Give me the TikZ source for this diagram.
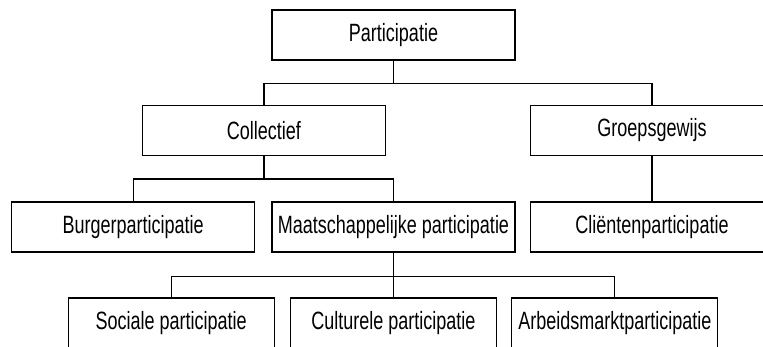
\documentclass[tikz,border=0pt]{standalone}
\usepackage{fontspec}
\setmainfont[FakeStretch=0.72]{Liberation Sans}
\usepackage{tikz}
\usetikzlibrary{positioning}
\tikzset{box node/.style={rectangle,draw,line width=1.3pt,minimum width=243pt,minimum height=50pt,inner sep=0pt,font=\fontsize{25}{30}\selectfont},
         small node/.style={box node,minimum width=206pt}}

\begin{document}
\begin{tikzpicture}[x=1pt,y=-1pt]
            \useasboundingbox (0,0) rectangle (763,347);
            \clip (0,0) rectangle (763,347);
            \node[box node] (P) at (393.5,35) {Participatie};
            \node[box node] (C) at (264,130.5) {Collectief};
            \node[box node] (G) at (652,130.5) {Groepsgewijs};
            \node[box node] (M) at (393.5,227) {Maatschappelijke participatie};
            \node[box node] (B) [left = 16pt of M] {Burgerparticipatie};
            \node[box node] (K) at (652,227) {Cliëntenparticipatie};
            \node[small node] (CU) at (393.5,323) {Culturele participatie};
            \node[small node] (S) [left = 15pt of CU] {Sociale participatie};
            \node[small node] (A) [right = 14pt of CU] {Arbeidsmarktparticipatie};

            \draw[line width=1.3pt]
            (P.south) -- +(0,23) -| (C.north)
            (P.south) -- +(0,23) -| (G.north)
            (C.south) -- +(0,23) -| (B.north)
            (C.south) -- +(0,23) -| (M.north)
            (G.south) -- (K.north)
            (M.south) -- +(0,24) -| (S.north)
            (M.south) -- +(0,24) -| (CU.north)
            (M.south) -- +(0,24) -| (A.north);
        \end{tikzpicture}
\end{document}
